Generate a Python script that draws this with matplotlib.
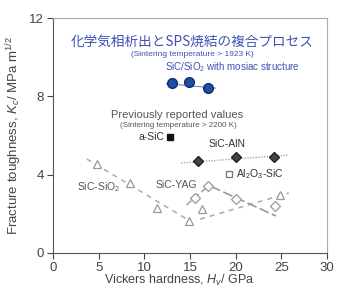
import matplotlib
matplotlib.use("Agg")
import matplotlib.pyplot as plt

plt.rcParams['font.family'] = ['Liberation Sans', 'Noto Sans CJK JP', 'DejaVu Sans']
plt.rcParams['mathtext.fontset'] = 'custom'
plt.rcParams['mathtext.rm'] = 'Liberation Sans'
plt.rcParams['mathtext.it'] = 'Liberation Sans:italic'

# Data
mosaic_x = [13.0, 14.9, 17.0]
mosaic_y = [8.67, 8.72, 8.42]
mosaic_line_x = [12.4, 17.8]
mosaic_line_y = [8.65, 8.42]

asic_x = [12.8]
asic_y = [5.92]

alN_x = [15.9, 20.0, 24.2]
alN_y = [4.69, 4.9, 4.9]
alN_line_x = [14.0, 25.7]
alN_line_y = [4.6, 5.0]

al2o3_x = [19.3]
al2o3_y = [4.03]

tri_x = [4.8, 8.4, 11.4, 14.9, 16.3, 24.8]
tri_y = [4.54, 3.57, 2.30, 1.63, 2.24, 2.96]
sio2_line1_x = [3.7, 15.0]
sio2_line1_y = [4.8, 1.63]
sio2_line2_x = [16.1, 25.8]
sio2_line2_y = [1.73, 3.06]

yag_x = [15.5, 17.0, 20.0, 24.3]
yag_y = [2.81, 3.42, 2.76, 2.40]
yag_line1_x = [14.6, 17.0]
yag_line1_y = [2.45, 3.42]
yag_line2_x = [17.3, 24.4]
yag_line2_y = [3.4, 1.89]

xticks = [0, 5, 10, 15, 20, 25, 30]
yticks = [0, 4, 8, 12]

fig = plt.figure(figsize=(3.44, 2.89), dpi=100)
ax = fig.add_axes([0.154, 0.1246, 0.797, 0.813])
ax.set_xlim(0, 30)
ax.set_ylim(0, 12)
ax.set_xticks(xticks)
ax.set_yticks(yticks)
ax.tick_params(labelsize=9.5, colors='#444444', length=4, direction='out', pad=2.5)
for s in ax.spines.values():
    s.set_color('#aaaaaa')
    s.set_linewidth(0.8)
ax.spines['left'].set_color('#555555')
ax.spines['bottom'].set_color('#555555')

# lines
ax.plot(mosaic_line_x, mosaic_line_y, color='#7788bb', lw=0.8)
ax.plot(alN_line_x, alN_line_y, color='#aaaaaa', lw=1.0, ls=(0, (1, 1)))
ax.plot(sio2_line1_x, sio2_line1_y, color='#b0b0b0', lw=1.2, ls=(0, (3, 3)))
ax.plot(sio2_line2_x, sio2_line2_y, color='#b0b0b0', lw=1.2, ls=(0, (3, 3)))
ax.plot(yag_line1_x, yag_line1_y, color='#aaaaaa', lw=1.2, ls=(0, (4, 2)))
ax.plot(yag_line2_x, yag_line2_y, color='#999999', lw=1.2, ls=(0, (6, 2)))

# markers
ax.plot(mosaic_x, mosaic_y, 'o', ms=7, mfc='#1f4fa0', mec='#102a70', mew=1.0, ls='none')
ax.plot(asic_x, asic_y, 's', ms=5, mfc='#111111', mec='#111111', ls='none')
ax.plot(alN_x, alN_y, 'D', ms=5, mfc='#444444', mec='#222222', ls='none')
ax.plot(al2o3_x, al2o3_y, 's', ms=5, mfc='white', mec='#777777', mew=0.9, ls='none')
ax.plot(tri_x, tri_y, '^', ms=6, mfc='white', mec='#999999', mew=0.9, ls='none')
ax.plot(yag_x, yag_y, 'D', ms=5.5, mfc='white', mec='#999999', mew=0.9, ls='none')

# texts
blue = '#3f50b5'
ax.text(15.2, 10.77, '化学気相析出とSPS焼結の複合プロセス', color=blue, fontsize=9.8,
        ha='center', va='center', family=['Noto Sans CJK JP', 'DejaVu Sans'])
ax.text(15.2, 10.15, '(Sintering temperature > 1923 K)', color=blue, fontsize=6.0,
        ha='center', va='center')
ax.text(19.6, 9.49, 'SiC/SiO$_2$ with mosiac structure', color=blue, fontsize=7.0,
        ha='center', va='center')
ax.text(13.6, 7.04, 'Previously reported values', color='#555555', fontsize=8.0,
        ha='center', va='center')
ax.text(13.7, 6.53, '(Sintering temperature > 2200 K)', color='#555555', fontsize=5.8,
        ha='center', va='center')
ax.text(12.2, 5.92, 'a-SiC', color='#333333', fontsize=7.5,
        ha='right', va='center')
ax.text(19.1, 5.56, 'SiC-AlN', color='#333333', fontsize=7.5,
        ha='center', va='center')
ax.text(20.0, 4.03, 'Al$_2$O$_3$-SiC', color='#333333', fontsize=7.5,
        ha='left', va='center')
ax.text(4.95, 3.37, 'SiC-SiO$_2$', color='#555555', fontsize=7.5,
        ha='center', va='center')
ax.text(13.5, 3.47, 'SiC-YAG', color='#555555', fontsize=7.5,
        ha='center', va='center')

ax.set_xlabel('Vickers hardness, $H_v$/ GPa', fontsize=9.0, color='#444444')
ax.xaxis.set_label_coords(0.46, -0.085)
ax.set_ylabel('Fracture toughness, $K_c$/ MPa m$^{1/2}$', fontsize=9.5, color='#444444')
ax.yaxis.set_label_coords(-0.105, 0.5)

fig.savefig('out.png', dpi=100)
